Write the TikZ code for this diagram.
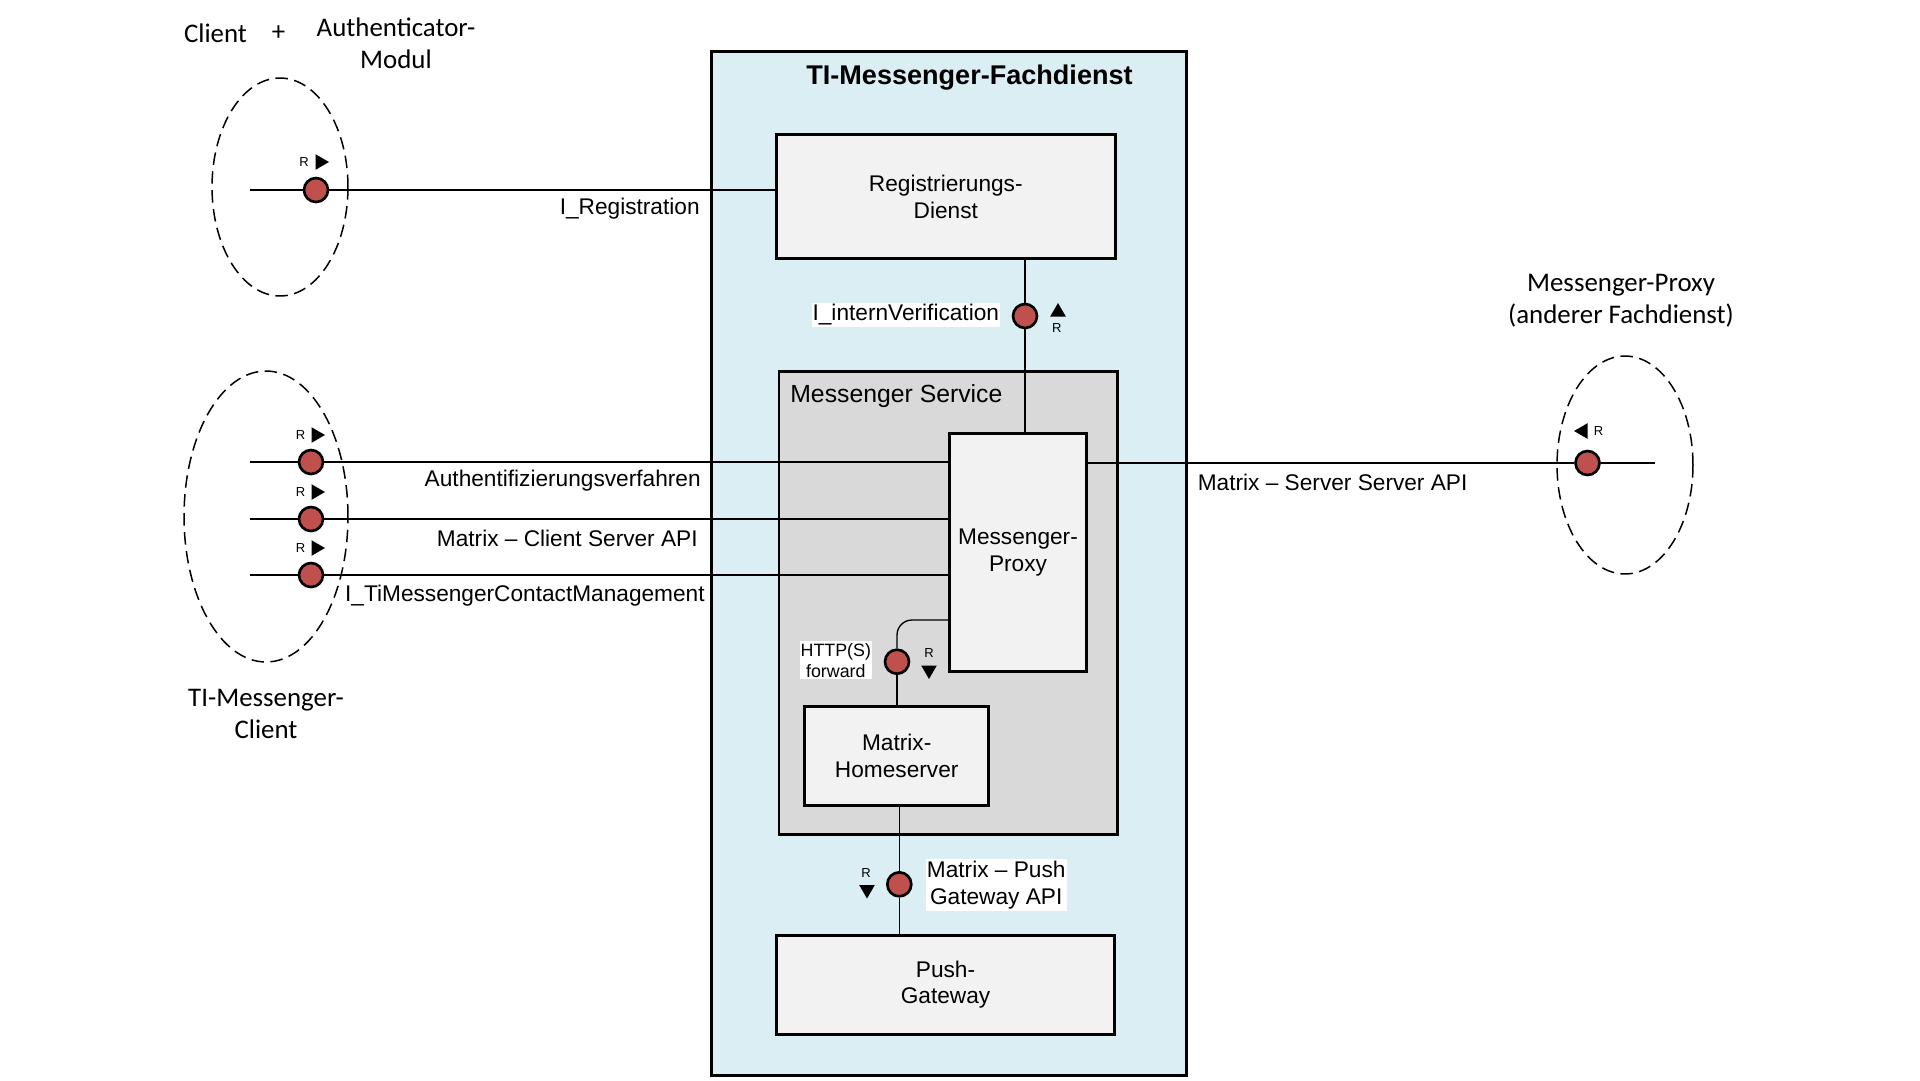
\documentclass[tikz,border=0pt]{standalone}
\usepackage{fontspec}
\setmainfont{Liberation Sans}
\newfontfamily\calfont{Carlito}
\usetikzlibrary{shapes,backgrounds}
\definecolor{fachblue}{RGB}{218,238,243}
\definecolor{servgray}{RGB}{217,217,217}
\definecolor{boxgray}{RGB}{242,242,242}
\definecolor{ifcred}{RGB}{192,80,77}

\begin{document}
\begin{tikzpicture}[x=0.02cm,y=-0.02cm,
  mybox/.style={draw,line width=1.7pt,fill=boxgray,align=center,inner sep=0pt,font=\fontsize{12.9}{15.1}\selectfont},
  myifc/.style={draw,circle,line width=1.5pt,fill=ifcred,minimum size=0.48cm,inner sep=0pt},
  mytri/.style={regular polygon,regular polygon sides=3,fill=black,minimum size=0.36cm,inner sep=0pt},
  myr/.style={inner sep=0pt,font=\fontsize{7.4}{8}\selectfont},
  mylabel/.style={inner sep=0pt,align=center,font=\fontsize{12.9}{15.1}\selectfont},
  mywhite/.style={fill=white,inner xsep=0.6pt,inner ysep=1pt,align=center,font=\fontsize{12.9}{15.1}\selectfont},
  mycal/.style={inner sep=0pt,align=center,font=\calfont\fontsize{15.3}{18.1}\selectfont},
  myline/.style={line width=0.75pt},
  myoval/.style={draw,ellipse,dash pattern=on 0.25cm off 0.13cm,line width=0.85pt,inner sep=0pt}
]
\useasboundingbox (0,0) rectangle (1920,1080);

\begin{scope}[on background layer]
\node[draw,line width=1.7pt,fill=fachblue,minimum width=9.5cm,minimum height=20.48cm] (Fach) at (949.2,563.6) {};
\node[draw,line width=1.7pt,fill=servgray,minimum width=6.77cm,minimum height=9.25cm] (Service) at (948.2,603) {};
\end{scope}

\node[font=\bfseries\fontsize{15.4}{18}\selectfont,inner sep=0pt] (title) at (969.5,78) {TI-Messenger-Fachdienst};
\node[anchor=west,inner sep=0pt,font=\fontsize{14.1}{16}\selectfont] (lService) at (790,396) {Messenger Service};

\node[mybox,minimum width=6.77cm,minimum height=2.47cm] (Reg) at (945.8,196.7) {Registrierungs-\\Dienst};
\node[mybox,minimum width=2.75cm,minimum height=4.77cm] (Proxy) at (1018,552.5) {Messenger-\\Proxy};
\node[mybox,minimum width=3.67cm,minimum height=1.99cm] (Home) at (896.7,755.9) {Matrix-\\Homeserver};
\node[mybox,minimum width=6.78cm,minimum height=1.98cm] (Push) at (945.5,984.5) {Push-\\Gateway};

% clients and peer
\node[myoval,minimum width=2.72cm,minimum height=4.36cm] (ClientAuth) at (280,187) {};
\node[myoval,minimum width=3.28cm,minimum height=5.82cm] (ClientTI) at (266,516.5) {};
\node[myoval,minimum width=2.72cm,minimum height=4.36cm] (PeerProxy) at (1625,465) {};

\node[mycal] (lClient) at (215.5,33) {Client};
\node[mycal] (lPlus) at (278.5,33) {+};
\node[mycal] (lAuth) at (396,43) {Authenticator-\\Modul};
\node[mycal] (lTIC) at (266,714) {TI-Messenger-\\Client};
\node[mycal] (lPeer) at (1621,301) {Messenger-Proxy\\(anderer Fachdienst)};

% interfaces
\coordinate (sReg) at (250,190);
\node[myifc] (IfReg) at (316,190) {};
\node[myr] (rReg) at (304,162) {R};
\node[mytri,shape border rotate=-90] (tReg) at (320,162) {};
\node[mylabel,anchor=east] (lReg) at (700,209) {I\_Registration};

\foreach \n/\y/\t/\lx/\ly in {A/462/Authentifizierungsverfahren/701/481,
  C/519/Matrix – Client Server API/698/538,
  T/575/I\_TiMessengerContactManagement/705/596}{
\coordinate (s\n) at (250,\y);
\node[myifc] (If\n) at (311,\y) {};
\node[myr] (r\n) at (300.5,\y-27) {R};
\node[mytri,shape border rotate=-90] (t\n) at (316,\y-27) {};
\node[mylabel,anchor=east] (l\n) at (\lx,\ly) {\t};
}

\node[myifc] (IfVer) at (1025,316) {};
\node[mytri] (tVer) at (1058,312) {};
\node[myr] (rVer) at (1056.7,328) {R};
\node[mywhite] (lVer) at (905.8,315) {I\_internVerification};

\coordinate (kHttp) at (897,620);
\node[myifc] (IfHttp) at (897,661.7) {};
\node[myr] (rHttp) at (929,653) {R};
\node[mytri,shape border rotate=180] (tHttp) at (929,670) {};
\node[mywhite,font=\fontsize{10.15}{12.1}\selectfont] (lHttp) at (835.8,660.3) {HTTP(S)\\forward};

\node[myifc] (IfPush) at (899.3,884.3) {};
\node[myr] (rPush) at (866,873) {R};
\node[mytri,shape border rotate=180] (tPush) at (867,889.5) {};
\node[mywhite] (lPush) at (996.2,885) {Matrix – Push\\Gateway API};

\coordinate (eSS) at (1655,463);
\node[myifc] (IfSS) at (1587.5,463) {};
\node[mytri,shape border rotate=90] (tSS) at (1583,431) {};
\node[myr] (rSS) at (1598.5,431) {R};
\node[mylabel,anchor=west] (lSS) at (1197.5,482) {Matrix – Server Server API};

\begin{scope}[on background layer]
\draw[myline] (sReg) -- (IfReg) -- (IfReg -| Reg.west);
\foreach \n in {A,C,T}{
\draw[myline] (s\n) -- (If\n) -- (If\n -| Proxy.west);
}
\draw[myline] (IfVer |- Reg.south) -- (IfVer) -- (IfVer |- Proxy.north);
\draw[myline,rounded corners=0.3cm] (Proxy.west |- kHttp) -| (IfHttp);
\draw[myline] (IfHttp) -- (IfHttp |- Home.north);
\draw[myline] (IfPush |- Home.south) -- (IfPush) -- (IfPush |- Push.north);
\draw[myline] (Proxy.east |- IfSS) -- (IfSS) -- (eSS);
\end{scope}

\end{tikzpicture}
\end{document}
